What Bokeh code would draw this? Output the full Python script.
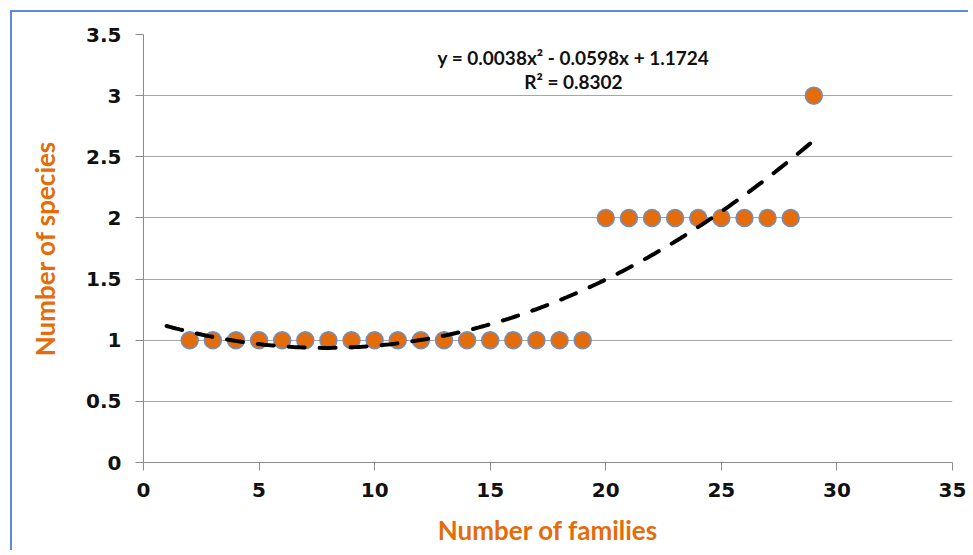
import numpy as np
from bokeh.plotting import figure
from bokeh.models import Label, FixedTicker, Range1d
from bokeh.embed import file_html
from bokeh.resources import INLINE

# Data
families = [2, 3, 4, 5, 6, 7, 8, 9, 10, 11, 12, 13, 14, 15, 16, 17, 18, 19,
            20, 21, 22, 23, 24, 25, 26, 27, 28, 29]
species = [1, 1, 1, 1, 1, 1, 1, 1, 1, 1, 1, 1, 1, 1, 1, 1, 1, 1,
           2, 2, 2, 2, 2, 2, 2, 2, 2, 3]

# Trendline coefficients as printed on the chart (a, b, c for ax^2 + bx + c)
trend_coeffs = [0.0038, -0.0598, 1.1724]
trend_x_range = [1, 29]
equation_text = "y = 0.0038x² - 0.0598x + 1.1724"
r2_text = "R² = 0.8302"

x_ticks = [0, 5, 10, 15, 20, 25, 30, 35]
y_ticks = [0, 0.5, 1, 1.5, 2, 2.5, 3, 3.5]
y_tick_labels = ["0", "0.5", "1", "1.5", "2", "2.5", "3", "3.5"]

BLUE = "#5B8AD6"
ORANGE = "#E46C0A"
GRID = "#A6A6A6"

p = figure(width=958, height=540, output_backend="svg", toolbar_location=None,
           x_range=Range1d(0, 35), y_range=Range1d(0, 3.5),
           min_border_left=131, min_border_right=18, min_border_top=22,
           min_border_bottom=90)
p.styles = {"border-top": f"2px solid {BLUE}", "border-left": f"2px solid {BLUE}",
            "margin-top": "10px", "margin-left": "10px"}
p.outline_line_color = None
p.background_fill_color = "white"
p.border_fill_color = "white"

p.xgrid.grid_line_color = None
p.ygrid.grid_line_color = GRID
p.ygrid.grid_line_width = 1

p.xaxis.ticker = FixedTicker(ticks=x_ticks)
p.yaxis.ticker = FixedTicker(ticks=y_ticks)
p.yaxis.major_label_overrides = {t: l for t, l in zip(y_ticks, y_tick_labels)}

for ax in (p.xaxis[0], p.yaxis[0]):
    ax.axis_line_color = "#8C8C8C"
    ax.major_tick_line_color = "#8C8C8C"
    ax.major_tick_out = 8
    ax.major_tick_in = 0
    ax.minor_tick_line_color = None
    ax.major_label_text_font = "DejaVu Sans"
    ax.major_label_text_font_style = "bold"
    ax.major_label_text_font_size = "20px"
    ax.major_label_text_color = "#111111"
    ax.axis_label_text_font = "Lato"
    ax.axis_label_text_font_style = "bold"
    ax.axis_label_text_font_size = "26px"
    ax.axis_label_text_color = ORANGE

p.xaxis.axis_label = "Number of families"
p.yaxis.axis_label = "Number of species"
p.xaxis.major_label_standoff = 12
p.yaxis.major_label_standoff = 14
p.xaxis.axis_label_standoff = 14
p.yaxis.axis_label_standoff = 22

p.scatter(families, species, size=17, fill_color=ORANGE,
          line_color="#6F8FC4", line_width=1.5)

a, b, c = trend_coeffs
tx = np.linspace(trend_x_range[0], trend_x_range[1], 200)
ty = a * tx ** 2 + b * tx + c
p.line(tx, ty, line_color="black", line_width=4, line_dash="16 15",
       line_cap="round")

p.add_layout(Label(x=18.6, y=3.31, text=equation_text, text_align="center",
                   text_baseline="middle", text_font="Lato",
                   text_font_style="bold", text_font_size="19px",
                   text_color="#111111"))
p.add_layout(Label(x=18.6, y=3.115, text=r2_text, text_align="center",
                   text_baseline="middle", text_font="Lato",
                   text_font_style="bold", text_font_size="19px",
                   text_color="#111111"))

open("out.html", "w").write(file_html(p, INLINE))
